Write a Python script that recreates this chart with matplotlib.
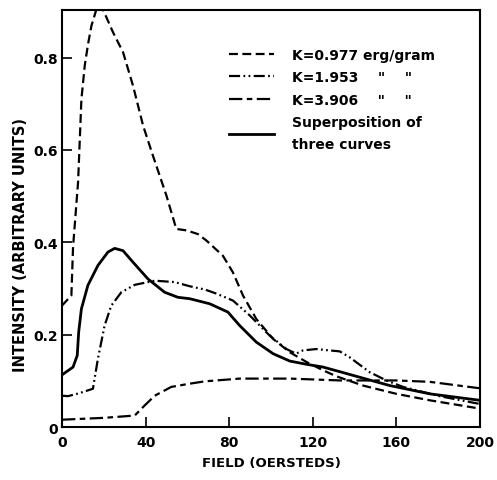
import matplotlib
matplotlib.use("Agg")
import matplotlib.pyplot as plt

# curves (field in oersteds, intensity arbitrary)
k1_x = [0, 4.5, 5.3, 6.5, 7.7, 9.3, 10.9, 12.5, 14.1, 16.5, 18.5, 21, 24.4, 29.2, 34, 38.8,
        43.5, 50, 54.7, 59.5, 65, 69.1, 77, 81.8, 86.6, 93, 101, 109, 117, 124.9, 131.3,
        144, 160, 176, 200]
k1_y = [0.263, 0.285, 0.39, 0.46, 0.53, 0.71, 0.783, 0.83, 0.869, 0.905, 0.915, 0.89, 0.855,
        0.812, 0.739, 0.653, 0.588, 0.501, 0.429, 0.426, 0.418, 0.404, 0.371, 0.335, 0.285,
        0.234, 0.191, 0.162, 0.141, 0.123, 0.11, 0.09, 0.072, 0.058, 0.040]

k2_x = [0, 2.9, 8, 14.8, 17.2, 20.4, 23.6, 28.4, 34.8, 44.4, 53.9, 61.1, 68.3, 73.9, 81.8,
        89.8, 99.4, 107.4, 112, 115.3, 121.7, 128, 132.9, 137.7, 147.2, 155.2, 163.2, 180.7, 200]
k2_y = [0.068, 0.067, 0.073, 0.083, 0.148, 0.22, 0.263, 0.292, 0.308, 0.317, 0.314, 0.305,
        0.298, 0.289, 0.274, 0.242, 0.198, 0.169, 0.159, 0.166, 0.169, 0.166, 0.164, 0.151,
        0.119, 0.101, 0.087, 0.067, 0.050]

k3_x = [0, 20, 34.8, 37, 39.6, 44.4, 52.3, 61.1, 68.3, 85, 109, 133, 160, 176, 200]
k3_y = [0.016, 0.02, 0.025, 0.035, 0.047, 0.068, 0.087, 0.094, 0.099, 0.105, 0.105, 0.101,
        0.101, 0.098, 0.084]

sum_x = [0, 5.3, 7.3, 8, 9.3, 12.4, 17.2, 22, 25.2, 29.2, 34, 41.1, 49.1, 55.5, 61.1, 70.7,
         79.4, 85, 93, 101, 109, 117, 124.9, 132.9, 144, 156.8, 176, 200]
sum_y = [0.113, 0.13, 0.155, 0.206, 0.256, 0.307, 0.35, 0.379, 0.387, 0.382, 0.357, 0.321,
         0.292, 0.281, 0.278, 0.267, 0.249, 0.22, 0.184, 0.159, 0.143, 0.136, 0.13, 0.12,
         0.106, 0.09, 0.072, 0.058]

labels = ['K=0.977 erg/gram', 'K=1.953    "    "', 'K=3.906    "    "',
          'Superposition of\nthree curves']
x_ticks = [0, 40, 80, 120, 160, 200]
y_ticks = [0, 0.2, 0.4, 0.6, 0.8]
y_ticklabels = ['0', '0.2', '0.4', '0.6', '0.8']

plt.rcParams['font.family'] = 'DejaVu Sans'
plt.rcParams['font.weight'] = 'bold'

fig = plt.figure(figsize=(4.97, 4.81), dpi=100)
ax = fig.add_axes([0.1247, 0.110, 0.841, 0.867])

lw = 1.6
ax.plot(k1_x, k1_y, color='black', lw=lw, linestyle=(0, (4, 2)), label=labels[0])
ax.plot(k2_x, k2_y, color='black', lw=lw, linestyle=(0, (5, 1.5, 0.8, 1.5, 0.8, 1.5)), label=labels[1])
ax.plot(k3_x, k3_y, color='black', lw=lw, linestyle=(0, (6, 2, 2.5, 2)), label=labels[2])
ax.plot(sum_x, sum_y, color='black', lw=2.0, label=labels[3])

ax.set_xlim(0, 200)
ax.set_ylim(0, 0.903)
ax.set_xticks(x_ticks)
ax.set_yticks(y_ticks)
ax.set_yticklabels(y_ticklabels)
ax.tick_params(axis='x', direction='in', length=7, width=1.2, labelsize=10, pad=6)
ax.tick_params(axis='y', direction='in', length=7, width=1.2, labelsize=10, pad=3)
for s in ax.spines.values():
    s.set_linewidth(1.5)

ax.set_xlabel('FIELD (OERSTEDS)', fontsize=9.5, fontweight='bold', labelpad=5)
ax.set_ylabel('INTENSITY (ARBITRARY UNITS)', fontsize=10.5, fontweight='bold')
ax.yaxis.set_label_coords(-0.082, 0.44)

leg = ax.legend(loc='upper left', bbox_to_anchor=(0.37, 0.94), frameon=False, fontsize=10,
                handlelength=3.2, handletextpad=1.3, labelspacing=0.62)
for t in leg.get_texts():
    t.set_linespacing(1.7)

fig.savefig('out.png', dpi=100)
